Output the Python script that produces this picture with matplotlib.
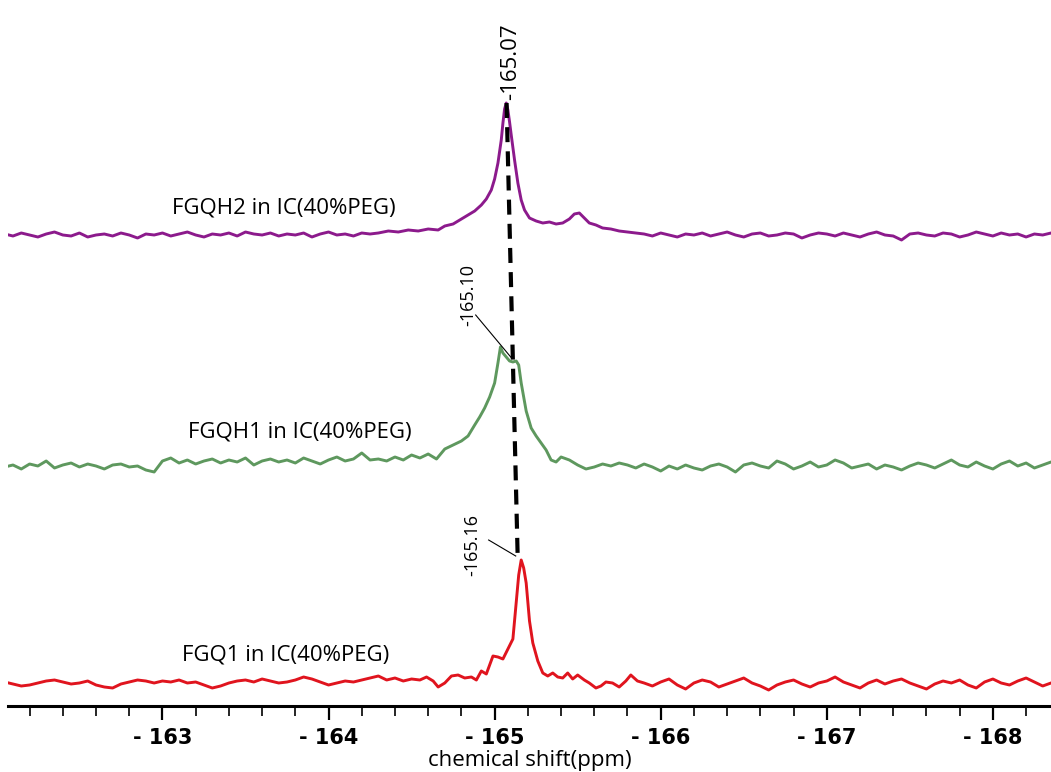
import numpy as np
import matplotlib.pyplot as plt
from matplotlib.ticker import MultipleLocator

# --- spectra (ppm, intensity above own baseline) ---
# FGQH2 (purple)
p_left = [1, -1, 2, 0, -2, 1, 3, 0, -1, 2, -2, 0, 1, -1, 2, 0, -3, 1, 0, 2, -1, 1, 3, 0, -2,
          1, 0, 2, -1, 3, 1, 0, 2, -1, 1, 0, 2, -2, 1, 3, 0, 1, -1, 2, 1]
p_peak_ppm = [-164.30, -164.36, -164.42, -164.48, -164.54, -164.60, -164.66, -164.70, -164.75,
              -164.80, -164.84, -164.88, -164.92, -164.95, -164.98, -165.00, -165.02, -165.04,
              -165.05, -165.06, -165.07, -165.08, -165.09, -165.10, -165.12, -165.14, -165.16,
              -165.18, -165.21, -165.25, -165.29, -165.33, -165.37, -165.41, -165.45, -165.48,
              -165.51, -165.54, -165.57, -165.61, -165.65, -165.70, -165.75, -165.80, -165.85]
p_peak = [2, 4, 3, 5, 4, 6, 5, 9, 11, 16, 20, 24, 30, 36, 45, 56, 72, 95, 112, 126, 132, 125,
          113, 100, 75, 52, 35, 25, 17, 14, 12, 13, 11, 12, 16, 21, 22, 17, 12, 10, 7, 6, 4, 3, 2]
p_right = [1, -1, 2, 0, -2, 1, 0, 2, -1, 1, 3, 0, -2, 1, 2, -1, 0, 2, 1, -3, 0, 2, 1, -1, 2, 0,
           -2, 1, 3, 0, -1, -5, 1, 2, 0, -1, 2, 1, -2, 0, 3, 1, -1, 2, 0, 1, -2, 1, 0, 2, -1]

# FGQH1 (green)
g_left = [-4, -2, -6, -1, -3, 2, -5, -2, 0, -4, -1, -3, -6, -2, -1, -4, -3, -7, -9, 2, 5, 0, 3,
          -1, 2, 4, 0, 3, 1, 5, -2, 2, 4, 1, 3, 0, 5, 2, -1, 3, 6, 2, 4, 10, 3]
g_peak_ppm = [-164.30, -164.35, -164.40, -164.45, -164.50, -164.55, -164.60, -164.65, -164.70,
              -164.75, -164.80, -164.84, -164.88, -164.91, -164.94, -164.97, -165.00, -165.02,
              -165.035, -165.05, -165.07, -165.09, -165.11, -165.13, -165.145, -165.16, -165.19,
              -165.22, -165.25, -165.28, -165.31, -165.34, -165.37, -165.40, -165.45, -165.50,
              -165.55, -165.60, -165.65, -165.70, -165.75]
g_peak = [4, 2, 6, 3, 8, 5, 9, 4, 14, 18, 22, 27, 38, 46, 55, 66, 80, 100, 116, 110, 106, 102,
          101, 102, 98, 80, 52, 35, 27, 20, 13, 3, 1, 6, 3, -2, -6, -4, -1, -3, 0]
g_right = [-2, -5, -1, -4, -8, -3, -6, -2, -5, -7, -3, -1, -4, -9, -2, 0, -3, -5, 2, -1, -6, -3,
           1, -4, -2, 3, 0, -5, -3, -1, -6, -2, -4, -7, -3, 0, -2, -5, -1, 3, -2, -4, 1, -3, -6,
           -1, 2, -3, 0, -5, -2, 1, -1]

# FGQ1 (red)
r_left = [1, -1, -3, -2, 0, 2, 3, 1, -1, 0, 2, -2, -4, -5, -1, 1, 3, 2, 0, 2, 1, 3, 0, 1, -2,
          -5, -3, 0, 2, 3, 1, 4, 2, 0, 1, 3, 6, 4, 1, -2, 0, 2, 1, 3, 5, 7, 3]
r_peak_ppm = [-164.40, -164.45, -164.50, -164.55, -164.59, -164.63, -164.66, -164.70, -164.74,
              -164.78, -164.82, -164.86, -164.89, -164.92, -164.95, -164.99, -165.02, -165.05,
              -165.08, -165.11, -165.13, -165.145, -165.16, -165.175, -165.19, -165.21, -165.23,
              -165.26, -165.29, -165.32, -165.35, -165.38, -165.41, -165.44, -165.47, -165.50,
              -165.54, -165.57, -165.61, -165.64, -165.67, -165.71, -165.75, -165.79, -165.82,
              -165.86]
r_peak = [5, 2, 4, 3, 6, 2, -4, 0, 7, 8, 5, 6, 3, 12, 9, 27, 26, 24, 34, 44, 80, 108, 123, 115,
          100, 62, 40, 22, 10, 7, 10, 6, 5, 10, 4, 8, 3, 0, -5, -3, 1, 0, -4, 2, 8, 2]
r_right = [0, -3, 1, 4, -2, -6, 0, 3, 1, -4, -1, 2, 5, 0, -3, -7, -2, 1, 3, -1, -4, 0, 2, 6, 1,
           -2, -5, 0, 3, -1, 2, 4, 0, -3, -6, -1, 2, 0, 3, -2, -5, 1, 4, 0, -2, 2, 5, 1, -3, 0, 2]

offsets = {'red': 23, 'green': 243, 'purple': 471}
names = ['FGQH2 in IC(40%PEG)', 'FGQH1 in IC(40%PEG)', 'FGQ1 in IC(40%PEG)']
tick_vals = [-163, -164, -165, -166, -167, -168]
tick_labels = ['- 163', '- 164', '- 165', '- 166', '- 167', '- 168']

fig = plt.figure(figsize=(10.51, 7.72), dpi=100)
ax = fig.add_axes([8 / 1051, 66 / 772, 1043 / 1051, 706 / 772])

def trace(left, pk_ppm, pk, right, l0, l1, r0, r1):
    x = np.concatenate([np.linspace(l0, l1, len(left)), pk_ppm, np.linspace(r0, r1, len(right))])
    y = np.concatenate([left, pk, right])
    return x, y

xp, yp = trace(p_left, p_peak_ppm, p_peak, p_right, -162.05, -164.25, -165.90, -168.40)
xg, yg = trace(g_left, g_peak_ppm, g_peak, g_right, -162.05, -164.25, -165.80, -168.40)
xr, yr = trace(r_left, r_peak_ppm, r_peak, r_right, -162.05, -164.35, -165.90, -168.40)

ax.plot(xp, yp + offsets['purple'], color='#8c1a8c', lw=2.1)
ax.plot(xg, yg + offsets['green'], color='#5e985e', lw=2.1)
ax.plot(xr, yr + offsets['red'], color='#e0141e', lw=2.1)

fam = ['Open Sans', 'DejaVu Sans']
txt = dict(fontsize=16, family=fam, ha='center', va='center')
ax.text(-163.73, 498, names[0], **txt)
ax.text(-163.83, 274, names[1], **txt)
ax.text(-163.74, 51, names[2], **txt)

# dashed line linking the peaks
ax.plot([-165.072, -165.139], [603, 148], color='black', lw=3, ls=(0, (3.6, 2.2)))

lab = dict(family=fam, rotation=90, ha='center')
ax.text(-165.095, 606, '-165.07', va='bottom', fontsize=16, **lab)
ax.text(-164.84, 411, '-165.10', va='center', fontsize=13, **lab)
ax.plot([-164.886, -165.102], [391, 348], color='black', lw=0.8)
ax.text(-164.865, 161, '-165.16', va='center', fontsize=13, **lab)
ax.plot([-164.964, -165.127], [166, 150], color='black', lw=0.8)

ax.set_xlim(-162.07, -168.35)
ax.set_ylim(0, 706)
for s in ['top', 'left', 'right']:
    ax.spines[s].set_visible(False)
ax.spines['bottom'].set_linewidth(2.2)
ax.set_yticks([])
ax.set_xticks(tick_vals)
ax.set_xticklabels(tick_labels, fontsize=15, fontweight='bold')
ax.xaxis.set_minor_locator(MultipleLocator(0.2))
ax.tick_params(axis='x', which='major', length=10, width=1.6, pad=6)
ax.tick_params(axis='x', which='minor', length=7, width=1.2)
ax.set_xlabel('chemical shift(ppm)', fontsize=16, family=fam, labelpad=1)

fig.savefig('out.png', dpi=100)
